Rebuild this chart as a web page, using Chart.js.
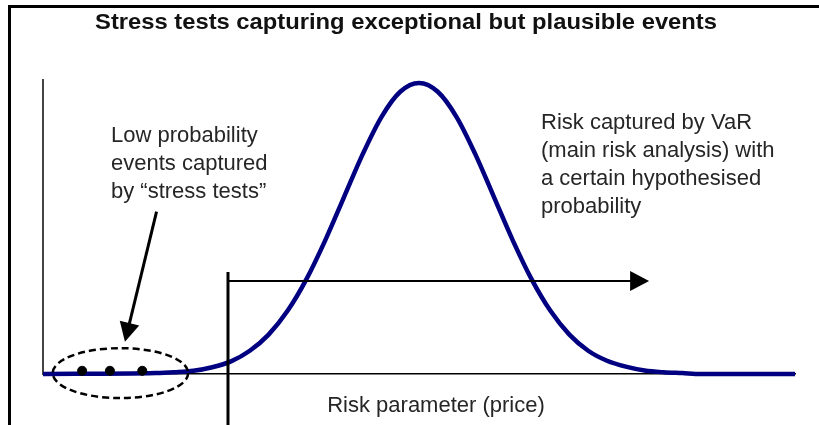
<!DOCTYPE html>
<html>
<head>
<meta charset="utf-8">
<script src="https://cdn.jsdelivr.net/npm/chart.js@4/dist/chart.umd.min.js"></script>
<style>
  html, body { margin: 0; padding: 0; background: #fff; }
  #wrap { width: 819px; height: 425px; }
</style>
</head>
<body>
<div id="wrap"><canvas id="c" width="819" height="425"></canvas></div>
<script>
// ---- Data ----
const titleText = "Stress tests capturing exceptional but plausible events";
const xAxisLabel = "Risk parameter (price)";
const stressLabel = ["Low probability", "events captured", "by \u201cstress tests\u201d"];
const varLabel = ["Risk captured by VaR", "(main risk analysis) with", "a certain hypothesised", "probability"];

// distribution curve: risk parameter vs probability density (relative units)
const curveX = [0, 15, 17.5, 20, 22.5, 25, 27.5, 30, 32.5, 35, 37.5, 40, 42.5, 45, 47.5, 50, 52.5, 55, 57.5, 60, 62.5, 65, 67.5, 70, 72.5, 75, 77.5, 80, 82.5, 85, 87.5, 100];
const curveY = [0, 0.3, 0.6, 1.1, 2.3, 4.3, 7.9, 13.4, 21.4, 32.1, 45.3, 60.0, 74.7, 87.4, 96.0, 99, 96.0, 87.4, 74.7, 60.0, 45.3, 32.1, 21.4, 13.4, 7.9, 4.5, 2.5, 1.2, 0.6, 0.3, 0, 0];

// low-probability "stress test" events
const stressX = [5.2, 8.9, 13.2];
const stressY = [1.1, 1.1, 1.1];

// VaR threshold and range
const varThreshold = 24.6;
const varArrowEnd = 80.6;
const varArrowLevel = 31.6;
const varLineTop = 34.7;

// region of the stress events (ellipse), in data units
const stressRegion = { cx: 10.3, cy: 0.3, rx: 9.0, ry: 8.5 };
// pointer from label to stress region, in data units
const pointerFrom = { x: 15.1, y: 55.2 };
const pointerTo = { x: 10.9, y: 11.0 };

const FONT = '"Liberation Sans", Arial, Helvetica, sans-serif';

function arrowHead(ctx, x1, y1, x2, y2, len, half) {
  const a = Math.atan2(y2 - y1, x2 - x1);
  ctx.beginPath();
  ctx.moveTo(x2, y2);
  ctx.lineTo(x2 - len * Math.cos(a) + half * Math.sin(a), y2 - len * Math.sin(a) - half * Math.cos(a));
  ctx.lineTo(x2 - len * Math.cos(a) - half * Math.sin(a), y2 - len * Math.sin(a) + half * Math.cos(a));
  ctx.closePath();
  ctx.fill();
}

const decorPlugin = {
  id: 'decor',
  beforeDraw(chart) {
    const ctx = chart.ctx;
    ctx.save();
    ctx.fillStyle = '#fff';
    ctx.fillRect(0, 0, chart.width, chart.height);
    // frame (top + left)
    ctx.fillStyle = '#000';
    ctx.fillRect(8, 5, 3, 420);
    ctx.fillRect(8, 5, 811, 3);
    ctx.restore();
  },
  afterDatasetsDraw(chart) {
    const ctx = chart.ctx;
    const xs = chart.scales.x, ys = chart.scales.y;
    const px = v => xs.getPixelForValue(v);
    const py = v => ys.getPixelForValue(v);
    ctx.save();
    ctx.strokeStyle = '#000';
    ctx.fillStyle = '#000';

    // VaR threshold vertical line
    ctx.lineWidth = 3;
    ctx.beginPath();
    ctx.moveTo(px(varThreshold), py(varLineTop));
    ctx.lineTo(px(varThreshold), chart.height);
    ctx.stroke();

    // VaR arrow
    const ay = py(varArrowLevel);
    const ax1 = px(varThreshold), ax2 = px(varArrowEnd);
    ctx.lineWidth = 2;
    ctx.beginPath();
    ctx.moveTo(ax1, ay);
    ctx.lineTo(ax2 - 12, ay);
    ctx.stroke();
    arrowHead(ctx, ax1, ay, ax2, ay, 19, 10);

    // dashed ellipse around stress events
    const ecx = px(stressRegion.cx), ecy = py(stressRegion.cy);
    const erx = px(stressRegion.cx + stressRegion.rx) - ecx;
    const ery = ecy - py(stressRegion.cy + stressRegion.ry);
    ctx.lineWidth = 2.5;
    ctx.setLineDash([7, 4]);
    ctx.beginPath();
    ctx.ellipse(ecx, ecy, erx, ery, 0, 0, Math.PI * 2);
    ctx.stroke();
    ctx.setLineDash([]);

    // pointer arrow
    const p1x = px(pointerFrom.x), p1y = py(pointerFrom.y);
    const p2x = px(pointerTo.x), p2y = py(pointerTo.y);
    const ang = Math.atan2(p2y - p1y, p2x - p1x);
    ctx.lineWidth = 3;
    ctx.beginPath();
    ctx.moveTo(p1x, p1y);
    ctx.lineTo(p2x - 14 * Math.cos(ang), p2y - 14 * Math.sin(ang));
    ctx.stroke();
    arrowHead(ctx, p1x, p1y, p2x, p2y, 19, 10);

    // title (slightly widened to match the reference)
    ctx.fillStyle = '#111';
    ctx.textBaseline = 'alphabetic';
    ctx.font = 'bold 22px ' + FONT;
    ctx.textAlign = 'center';
    ctx.save();
    ctx.translate(406, 29);
    ctx.scale(1.08, 1);
    ctx.fillText(titleText, 0, 0);
    ctx.restore();

    ctx.fillStyle = '#262626';
    ctx.font = '22px ' + FONT;
    ctx.fillText(xAxisLabel, 436, 412);

    ctx.textAlign = 'left';
    stressLabel.forEach((t, i) => ctx.fillText(t, 111, 142 + i * 28));
    varLabel.forEach((t, i) => ctx.fillText(t, 541, 129 + i * 28));
    ctx.restore();
  }
};

new Chart(document.getElementById('c'), {
  type: 'line',
  data: {
    datasets: [
      {
        label: 'Distribution',
        data: curveX.map((x, i) => ({ x, y: curveY[i] })),
        borderColor: '#000080',
        borderWidth: 4.5,
        pointRadius: 0,
        cubicInterpolationMode: 'monotone',
        fill: false,
        clip: false,
        order: 2
      },
      {
        label: 'Stress events',
        type: 'scatter',
        data: stressX.map((x, i) => ({ x, y: stressY[i] })),
        backgroundColor: '#000',
        borderColor: '#000',
        pointRadius: 4.5,
        showLine: false,
        clip: false,
        order: 1
      }
    ]
  },
  options: {
    responsive: false,
    animation: false,
    events: [],
    layout: { padding: { left: 43, right: 24, top: 80, bottom: 51 } },
    plugins: { legend: { display: false }, title: { display: false }, tooltip: { enabled: false } },
    scales: {
      x: {
        type: 'linear', min: 0, max: 100,
        ticks: { display: false },
        grid: { display: false, drawTicks: false },
        border: { display: true, color: '#000', width: 1.5 }
      },
      y: {
        type: 'linear', min: 0, max: 100,
        ticks: { display: false },
        grid: { display: false, drawTicks: false },
        border: { display: true, color: '#444', width: 2 }
      }
    }
  },
  plugins: [decorPlugin]
});
</script>
</body>
</html>
